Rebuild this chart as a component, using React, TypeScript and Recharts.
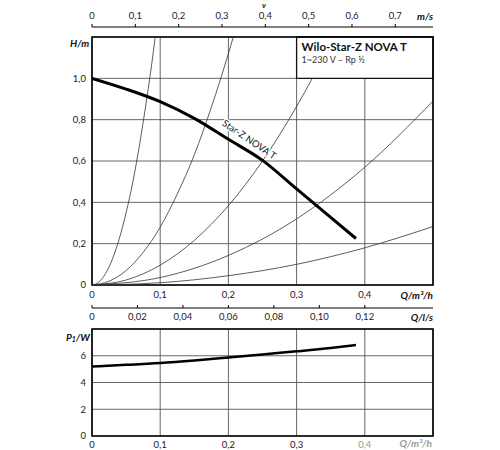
import { LineChart, Line, XAxis, YAxis, CartesianGrid, ReferenceArea, LabelList } from "recharts";
import { CSSProperties } from "react";

// pump curve H(Q)
const pumpQ = [0, 0.05, 0.1, 0.15, 0.2, 0.25, 0.3, 0.35, 0.387];
const pumpH = [1.0, 0.948, 0.887, 0.806, 0.705, 0.603, 0.465, 0.327, 0.225];

// power curve P1(Q)
const powerQ = [0, 0.05, 0.1, 0.15, 0.2, 0.25, 0.3, 0.35, 0.387];
const powerP = [5.2, 5.32, 5.46, 5.65, 5.87, 6.1, 6.33, 6.58, 6.8];

// system curves (thin lines)
const sys1Q = [0, 0.01, 0.02, 0.03, 0.04, 0.05, 0.06, 0.07, 0.08, 0.09, 0.1];
const sys1H = [0, 0.014, 0.056, 0.126, 0.224, 0.35, 0.5, 0.685, 0.895, 1.13, 1.4];
const sys2Q = [0, 0.025, 0.05, 0.075, 0.1, 0.125, 0.15, 0.175, 0.2, 0.215];
const sys2H = [0, 0.018, 0.07, 0.158, 0.28, 0.44, 0.63, 0.86, 1.12, 1.29];
const sys3Q = [0, 0.05, 0.1, 0.15, 0.2, 0.25, 0.3, 0.323];
const sys3H = [0, 0.024, 0.096, 0.216, 0.384, 0.6, 0.864, 1.0];
const sys4Q = [0, 0.1, 0.2, 0.3, 0.4, 0.5];
const sys4H = [0, 0.036, 0.143, 0.32, 0.57, 0.89];
const sys5Q = [0, 0.1, 0.2, 0.3, 0.4, 0.5];
const sys5H = [0, 0.011, 0.045, 0.1, 0.18, 0.283];

// axis ticks
const qTicks = [0, 0.1, 0.2, 0.3, 0.4, 0.5];
const hTicks = [0, 0.2, 0.4, 0.6, 0.8, 1.0, 1.2];
const pTicks = [0, 2, 4, 6, 8];
const vTicks = [0, 0.1, 0.2, 0.3, 0.4, 0.5, 0.6, 0.7];
const lsTicks = [0, 0.02, 0.04, 0.06, 0.08, 0.1, 0.12];

const toPoints = (qs: number[], ys: number[]) => qs.map((q, i) => ({ q, y: ys[i] }));

const fmt = (v: number, digits: number) => (v === 0 ? "0" : v.toFixed(digits).replace(".", ","));

const tickStyle = { fontSize: 9.5, fill: "#222" };
const GRID = "#555";

const title: CSSProperties = {
  position: "absolute",
  fontSize: 10,
  fontWeight: 700,
  fontStyle: "italic",
  lineHeight: "12px",
  whiteSpace: "nowrap",
  color: "#111",
};

const renderCurveName = (props: any) => {
  const { x, y, index } = props;
  if (index !== 4) return null;
  const cx = x + 21;
  const cy = y;
  return (
    <text
      x={cx}
      y={cy}
      transform={`rotate(34 ${cx} ${cy})`}
      textAnchor="middle"
      dominantBaseline="central"
      fontSize={9.5}
      fill="#111"
      stroke="#fff"
      strokeWidth={3}
      paintOrder="stroke"
    >
      Star-Z NOVA T
    </text>
  );
};

const renderBox = (props: any) => {
  const { x, y } = props.viewBox;
  return (
    <g>
      <text x={x + 5} y={y + 14} fontSize={11.5} fontWeight={700} fill="#111">
        Wilo-Star-Z NOVA T
      </text>
      <text x={x + 5} y={y + 26} fontSize={9} fill="#333">
        1~230 V – Rp ½
      </text>
    </g>
  );
};

// velocity axis on top: ticks point up to the labels
const VTick = (props: any) => {
  const { x, y, payload } = props;
  return (
    <text x={x} y={y} dy="0.35em" textAnchor="middle" {...tickStyle}>
      {fmt(payload.value, 1)}
    </text>
  );
};

// l/s axis: small ticks above the line, labels below
const LsTick = (props: any) => {
  const { x, y, payload } = props;
  const axisY = y - 9;
  return (
    <g>
      <line x1={x} x2={x} y1={axisY - 3} y2={axisY} stroke="#000" />
      <text x={x} y={y} dy="0.35em" textAnchor="middle" {...tickStyle}>
        {fmt(payload.value, 2)}
      </text>
    </g>
  );
};

const LowerQTick = (props: any) => {
  const { x, y, payload } = props;
  const v = payload.value;
  if (v === 0.5) return null;
  return (
    <text x={x} y={y} dy="0.71em" textAnchor="middle" {...tickStyle} fill={v === 0.4 ? "#999" : "#222"}>
      {fmt(v, 1)}
    </text>
  );
};

export default function App() {
  return (
    <div
      style={{
        position: "absolute",
        left: 0,
        top: 0,
        width: 500,
        height: 450,
        background: "#fff",
        fontFamily: "Lato, 'Noto Sans', sans-serif",
        overflow: "hidden",
      }}
    >
      {/* velocity axis */}
      <div style={{ position: "absolute", left: 0, top: 0 }}>
        <LineChart width={500} height={30} data={vTicks.map((v) => ({ v }))} margin={{ top: 0, right: 67, bottom: 0, left: 92 }}>
          <XAxis
            xAxisId="v"
            dataKey="v"
            type="number"
            orientation="top"
            domain={[0, 0.787]}
            ticks={vTicks}
            interval={0}
            height={27}
            tickSize={3}
            tickMargin={8}
            axisLine={{ stroke: "#000" }}
            tickLine={{ stroke: "#000" }}
            tick={<VTick />}
          />
        </LineChart>
      </div>

      {/* head chart */}
      <div style={{ position: "absolute", left: 0, top: 0 }}>
        <LineChart width={500} height={305} margin={{ top: 37, right: 67, bottom: 0, left: 0 }}>
          <CartesianGrid stroke={GRID} strokeWidth={0.9} />
          <XAxis
            dataKey="q"
            type="number"
            domain={[0, 0.5]}
            ticks={qTicks}
            interval={0}
            allowDataOverflow
            height={20}
            tickSize={0}
            tickMargin={6}
            axisLine={false}
            tick={tickStyle}
            tickFormatter={(v: number) => (v === 0.5 ? "" : fmt(v, 1))}
          />
          <YAxis
            type="number"
            domain={[0, 1.2]}
            ticks={hTicks}
            interval={0}
            allowDataOverflow
            width={92}
            tickSize={0}
            tickMargin={6}
            axisLine={false}
            tick={tickStyle}
            tickFormatter={(v: number) => (v === 1.2 ? "" : fmt(v, 1))}
          />
          <Line data={toPoints(sys1Q, sys1H)} dataKey="y" type="monotone" stroke="#333" strokeWidth={0.8} dot={false} isAnimationActive={false} />
          <Line data={toPoints(sys2Q, sys2H)} dataKey="y" type="monotone" stroke="#333" strokeWidth={0.8} dot={false} isAnimationActive={false} />
          <Line data={toPoints(sys3Q, sys3H)} dataKey="y" type="monotone" stroke="#333" strokeWidth={0.8} dot={false} isAnimationActive={false} />
          <Line data={toPoints(sys4Q, sys4H)} dataKey="y" type="monotone" stroke="#333" strokeWidth={0.8} dot={false} isAnimationActive={false} />
          <Line data={toPoints(sys5Q, sys5H)} dataKey="y" type="monotone" stroke="#333" strokeWidth={0.8} dot={false} isAnimationActive={false} />
          <ReferenceArea x1={0.3} x2={0.5} y1={1.0} y2={1.2} fill="#fff" fillOpacity={1} stroke="#111" strokeWidth={1.3} label={renderBox} />
          <Line data={toPoints(pumpQ, pumpH)} dataKey="y" type="monotone" stroke="#000" strokeWidth={3} dot={false} isAnimationActive={false}>
            <LabelList content={renderCurveName} />
          </Line>
          <ReferenceArea x1={0} x2={0.5} y1={0} y2={1.2} fill="none" stroke="#000" strokeWidth={1.6} />
        </LineChart>
      </div>

      {/* l/s axis */}
      <div style={{ position: "absolute", left: 0, top: 300 }}>
        <LineChart width={500} height={30} data={lsTicks.map((v) => ({ v }))} margin={{ top: 0, right: 67, bottom: 0, left: 92 }}>
          <XAxis
            xAxisId="ls"
            dataKey="v"
            type="number"
            domain={[0, 0.15]}
            ticks={lsTicks}
            interval={0}
            height={22}
            tickSize={0}
            tickMargin={9}
            axisLine={{ stroke: "#000" }}
            tickLine={false}
            tick={<LsTick />}
          />
        </LineChart>
      </div>

      {/* power chart */}
      <div style={{ position: "absolute", left: 0, top: 300 }}>
        <LineChart width={500} height={150} margin={{ top: 29, right: 67, bottom: 0, left: 0 }}>
          <CartesianGrid stroke={GRID} strokeWidth={0.9} />
          <XAxis
            dataKey="q"
            type="number"
            domain={[0, 0.5]}
            ticks={qTicks}
            interval={0}
            height={14}
            tickSize={0}
            tickMargin={5}
            axisLine={false}
            tick={<LowerQTick />}
          />
          <YAxis
            type="number"
            domain={[0, 8]}
            ticks={pTicks}
            interval={0}
            width={92}
            tickSize={0}
            tickMargin={6}
            axisLine={false}
            tick={tickStyle}
            tickFormatter={(v: number) => (v === 8 ? "" : String(v))}
          />
          <Line data={toPoints(powerQ, powerP)} dataKey="y" type="monotone" stroke="#000" strokeWidth={2.5} dot={false} isAnimationActive={false} />
          <ReferenceArea x1={0} x2={0.5} y1={0} y2={8} fill="none" stroke="#000" strokeWidth={1.6} />
        </LineChart>
      </div>

      {/* axis titles */}
      <span style={{ ...title, left: 262, top: 1, fontSize: 8, lineHeight: "8px" }}>v</span>
      <span style={{ ...title, right: 67, top: 10 }}>m/s</span>
      <span style={{ ...title, left: 70, top: 37 }}>H/m</span>
      <span style={{ ...title, right: 67, top: 289 }}>
        Q/m³/h
      </span>
      <span style={{ ...title, right: 67, top: 311 }}>Q/l/s</span>
      <span style={{ ...title, left: 66, top: 331 }}>
        P<sub style={{ fontSize: 7, verticalAlign: "-1px" }}>1</sub>/W
      </span>
      <span style={{ ...title, right: 68, top: 437, color: "#999" }}>
        Q/m³/h
      </span>
    </div>
  );
}
